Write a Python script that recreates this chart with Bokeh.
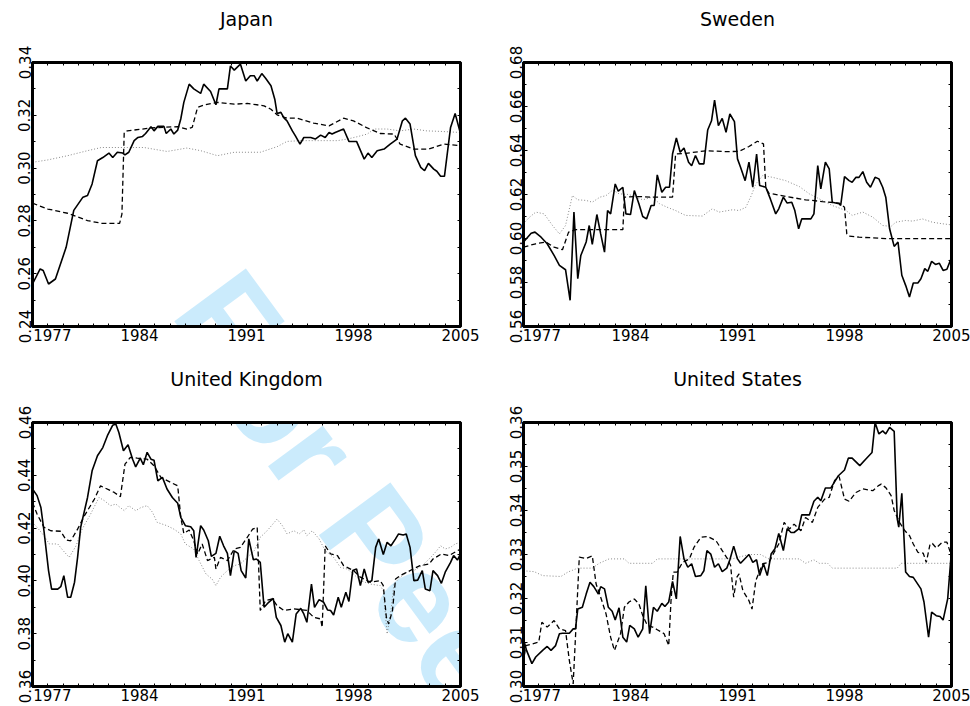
from bokeh.plotting import figure
from bokeh.models import FixedTicker, LinearAxis, Label, NumeralTickFormatter, Range1d
from bokeh.layouts import column, row
from bokeh.embed import file_html
from bokeh.resources import INLINE

# ---------------- data ----------------
titles = ["Japan", "Sweden", "United Kingdom", "United States"]

jp_solid_t = [1977.0, 1977.5, 1977.7, 1978.05, 1978.5, 1979.2, 1979.7, 1980.3, 1980.6, 1980.9, 1981.25, 1981.6, 1982.0, 1982.25, 1982.55, 1982.9, 1983.05, 1983.3, 1983.65, 1983.9, 1984.2, 1984.4, 1984.75, 1984.95, 1985.2, 1985.6, 1985.75, 1986.05, 1986.25, 1986.5, 1986.7, 1986.9, 1987.25, 1987.55, 1988.0, 1988.2, 1988.65, 1989.0, 1989.2, 1989.75, 1989.95, 1990.2, 1990.6, 1990.95, 1991.25, 1991.5, 1991.7, 1992.0, 1992.25, 1992.6, 1992.85, 1993.0, 1993.25, 1993.45, 1993.65, 1994.0, 1994.2, 1994.5, 1994.75, 1995.2, 1995.5, 1995.85, 1996.15, 1996.4, 1996.6, 1996.8, 1997.35, 1997.7, 1998.2, 1998.7, 1998.95, 1999.2, 1999.55, 2000.0, 2000.4, 2000.85, 2001.2, 2001.4, 2001.7, 2002.05, 2002.4, 2002.65, 2002.9, 2003.25, 2003.45, 2003.7, 2003.95, 2004.35, 2004.65, 2004.95]
jp_solid_v = [0.2561, 0.2618, 0.2612, 0.2561, 0.258, 0.270, 0.284, 0.289, 0.2896, 0.294, 0.3028, 0.304, 0.3057, 0.304, 0.306, 0.3057, 0.305, 0.306, 0.3104, 0.3116, 0.312, 0.3131, 0.3157, 0.3141, 0.3158, 0.3158, 0.3131, 0.3148, 0.3129, 0.3144, 0.3186, 0.3249, 0.3318, 0.330, 0.3283, 0.3318, 0.329, 0.324, 0.330, 0.330, 0.3387, 0.3371, 0.3394, 0.333, 0.335, 0.335, 0.333, 0.3358, 0.334, 0.3312, 0.3261, 0.3207, 0.3211, 0.319, 0.3179, 0.3141, 0.3122, 0.3091, 0.3116, 0.3116, 0.311, 0.3125, 0.3116, 0.3135, 0.3129, 0.3135, 0.3148, 0.3101, 0.3101, 0.3034, 0.3057, 0.304, 0.3066, 0.3072, 0.3091, 0.311, 0.3179, 0.3189, 0.3167, 0.3047, 0.3003, 0.299, 0.3018, 0.2996, 0.2988, 0.2969, 0.2969, 0.3154, 0.3207, 0.3141]
jp_dash_t = [1977.0, 1978.0, 1979.3, 1980.6, 1981.5, 1982.7, 1982.85, 1983.0, 1983.2, 1984.75, 1986.5, 1987.1, 1987.45, 1987.8, 1988.2, 1989.1, 1990.2, 1991.05, 1992.15, 1992.6, 1993.0, 1993.65, 1994.3, 1995.4, 1996.4, 1997.35, 1998.0, 1998.9, 1999.75, 2000.65, 2001.05, 2001.95, 2002.9, 2003.9, 2005.0]
jp_dash_v = [0.2867, 0.2845, 0.2829, 0.2801, 0.2791, 0.2791, 0.2826, 0.3135, 0.3141, 0.3152, 0.3157, 0.3148, 0.3154, 0.323, 0.3239, 0.3249, 0.3242, 0.3245, 0.3236, 0.3223, 0.3202, 0.3189, 0.3189, 0.317, 0.316, 0.3189, 0.3179, 0.3152, 0.3131, 0.3129, 0.3091, 0.3072, 0.3072, 0.3091, 0.3085]
jp_dot_t = [1977.0, 1978.0, 1979.3, 1980.6, 1981.5, 1983.2, 1984.3, 1985.8, 1987.1, 1988.0, 1989.1, 1990.2, 1991.9, 1993.0, 1993.65, 1994.55, 1995.85, 1996.95, 1997.6, 1998.25, 1998.9, 1999.35, 2000.2, 2001.05, 2001.95, 2002.8, 2003.7, 2005.0]
jp_dot_v = [0.3022, 0.3031, 0.3047, 0.3066, 0.3078, 0.3078, 0.3078, 0.3063, 0.3076, 0.3066, 0.3047, 0.306, 0.306, 0.3081, 0.3101, 0.3104, 0.3104, 0.3104, 0.311, 0.3119, 0.3129, 0.3148, 0.3148, 0.3141, 0.3148, 0.3141, 0.3139, 0.3135]

se_solid_t = [1977.0, 1977.5, 1977.75, 1978.15, 1978.55, 1979.0, 1979.35, 1979.75, 1980.05, 1980.3, 1980.55, 1980.75, 1981.1, 1981.3, 1981.5, 1981.8, 1982.05, 1982.3, 1982.5, 1982.7, 1983.0, 1983.2, 1983.5, 1983.7, 1984.0, 1984.25, 1984.55, 1984.8, 1985.05, 1985.35, 1985.55, 1985.75, 1986.05, 1986.3, 1986.55, 1986.75, 1987.0, 1987.25, 1987.5, 1987.8, 1988.0, 1988.25, 1988.5, 1988.8, 1989.05, 1989.3, 1989.5, 1989.75, 1990.0, 1990.25, 1990.5, 1990.8, 1991.0, 1991.2, 1991.5, 1991.75, 1992.0, 1992.25, 1992.45, 1992.85, 1993.15, 1993.5, 1993.7, 1994.0, 1994.25, 1994.55, 1994.75, 1995.0, 1995.2, 1995.8, 1996.0, 1996.25, 1996.45, 1996.75, 1997.0, 1997.2, 1997.65, 1997.75, 1998.0, 1998.3, 1998.5, 1998.75, 1998.95, 1999.2, 1999.45, 1999.7, 2000.0, 2000.25, 2000.5, 2000.7, 2000.95, 2001.25, 2001.5, 2001.75, 2002.0, 2002.25, 2002.5, 2002.8, 2003.0, 2003.25, 2003.45, 2003.7, 2003.95, 2004.2, 2004.45, 2004.7, 2005.0]
se_solid_v = [0.5984, 0.6024, 0.6029, 0.6006, 0.5976, 0.5923, 0.5878, 0.5858, 0.5719, 0.612, 0.5817, 0.5923, 0.5984, 0.6059, 0.5973, 0.6109, 0.6021, 0.5938, 0.6127, 0.6112, 0.6248, 0.6215, 0.6233, 0.6112, 0.6109, 0.6218, 0.6158, 0.610, 0.6089, 0.615, 0.615, 0.6289, 0.621, 0.6233, 0.6233, 0.6384, 0.6457, 0.6392, 0.6411, 0.6347, 0.6331, 0.6377, 0.6339, 0.6339, 0.6493, 0.6535, 0.6629, 0.6513, 0.6546, 0.6483, 0.6566, 0.6531, 0.6362, 0.6324, 0.6263, 0.6347, 0.6233, 0.6384, 0.6241, 0.6233, 0.618, 0.6112, 0.6135, 0.6188, 0.6161, 0.6165, 0.6127, 0.6044, 0.6089, 0.6089, 0.6112, 0.6331, 0.6226, 0.6347, 0.6316, 0.6165, 0.6158, 0.615, 0.6281, 0.6263, 0.6256, 0.6278, 0.6278, 0.6304, 0.6256, 0.6233, 0.6278, 0.6271, 0.6233, 0.6188, 0.6044, 0.5964, 0.5984, 0.5833, 0.5787, 0.5734, 0.5798, 0.5798, 0.5817, 0.5863, 0.5851, 0.5896, 0.5882, 0.5888, 0.5855, 0.586, 0.5913]
se_dash_t = [1977.0, 1977.8, 1978.45, 1979.0, 1979.55, 1979.95, 1980.4, 1981.75, 1983.5, 1983.6, 1984.35, 1985.45, 1986.75, 1986.95, 1987.6, 1988.95, 1990.25, 1991.1, 1991.75, 1992.3, 1992.7, 1992.85, 1993.05, 1994.15, 1995.45, 1996.55, 1997.65, 1998.0, 1998.15, 1998.3, 1998.95, 1999.85, 2000.7, 2001.55, 2005.0]
se_dash_v = [0.5961, 0.5976, 0.5984, 0.5961, 0.5949, 0.6029, 0.604, 0.604, 0.604, 0.6188, 0.6191, 0.6188, 0.6188, 0.6384, 0.6387, 0.6399, 0.6395, 0.6396, 0.6418, 0.6442, 0.643, 0.6233, 0.6206, 0.6191, 0.6176, 0.6168, 0.6161, 0.6142, 0.6021, 0.6011, 0.6006, 0.6003, 0.5999, 0.5999, 0.5999]
se_dot_t = [1977.0, 1977.4, 1977.8, 1978.35, 1978.9, 1979.35, 1979.75, 1980.2, 1980.55, 1981.1, 1981.5, 1982.0, 1982.4, 1982.85, 1983.25, 1983.9, 1984.8, 1985.45, 1985.9, 1986.4, 1986.95, 1987.6, 1988.7, 1989.35, 1989.8, 1990.7, 1991.1, 1991.55, 1991.9, 1992.2, 1992.65, 1993.3, 1994.15, 1995.05, 1995.7, 1996.55, 1997.2, 1998.1, 1998.5, 1999.2, 1999.85, 2000.5, 2001.05, 2001.35, 2002.0, 2002.45, 2003.1, 2003.75, 2004.4, 2005.0]
se_dot_v = [0.6067, 0.6097, 0.612, 0.6112, 0.6059, 0.6021, 0.6059, 0.6195, 0.6176, 0.6173, 0.6165, 0.6188, 0.6195, 0.6221, 0.6203, 0.620, 0.6176, 0.6188, 0.6158, 0.6142, 0.6127, 0.6105, 0.6102, 0.6135, 0.612, 0.6131, 0.6127, 0.6142, 0.6195, 0.6248, 0.6286, 0.6278, 0.6263, 0.6236, 0.6203, 0.6173, 0.615, 0.6127, 0.6105, 0.612, 0.6097, 0.6059, 0.6055, 0.6074, 0.6082, 0.6079, 0.6089, 0.6074, 0.6067, 0.6062]

uk_solid_t = [1977.0, 1977.3, 1977.55, 1977.75, 1978.05, 1978.25, 1978.65, 1978.85, 1979.05, 1979.3, 1979.5, 1979.75, 1979.95, 1980.15, 1980.6, 1980.9, 1981.25, 1981.6, 1981.9, 1982.25, 1982.45, 1982.65, 1982.95, 1983.25, 1983.55, 1983.75, 1984.05, 1984.25, 1984.5, 1984.75, 1984.95, 1985.2, 1985.5, 1985.8, 1986.15, 1986.5, 1986.7, 1987.0, 1987.35, 1987.55, 1987.7, 1988.0, 1988.2, 1988.5, 1988.7, 1989.0, 1989.25, 1989.5, 1989.75, 1989.95, 1990.2, 1990.45, 1990.65, 1990.95, 1991.15, 1991.45, 1991.65, 1991.9, 1992.15, 1992.45, 1992.75, 1992.95, 1993.25, 1993.5, 1993.7, 1994.0, 1994.25, 1994.55, 1994.75, 1994.95, 1995.25, 1995.45, 1995.75, 1996.05, 1996.3, 1996.5, 1996.7, 1997.0, 1997.2, 1997.5, 1997.7, 1997.95, 1998.2, 1998.45, 1998.7, 1998.95, 1999.2, 1999.45, 1999.65, 1999.95, 2000.2, 2000.45, 2000.75, 2000.95, 2001.25, 2001.45, 2001.7, 2001.95, 2002.2, 2002.5, 2002.7, 2003.0, 2003.2, 2003.5, 2003.75, 2004.0, 2004.35, 2004.55, 2004.8, 2005.0]
uk_solid_v = [0.4348, 0.4323, 0.4278, 0.419, 0.4039, 0.3969, 0.3969, 0.3978, 0.402, 0.3938, 0.3938, 0.3995, 0.4089, 0.4203, 0.4316, 0.4417, 0.4474, 0.4505, 0.455, 0.459, 0.4594, 0.4562, 0.4493, 0.4516, 0.4461, 0.4432, 0.4465, 0.444, 0.4487, 0.4461, 0.4457, 0.4379, 0.4392, 0.4348, 0.4316, 0.4294, 0.4241, 0.4209, 0.4205, 0.419, 0.4089, 0.4209, 0.4193, 0.4152, 0.4093, 0.4104, 0.4169, 0.4133, 0.4104, 0.402, 0.4114, 0.4104, 0.4039, 0.4011, 0.4159, 0.408, 0.4083, 0.407, 0.390, 0.3919, 0.3934, 0.3862, 0.3831, 0.3768, 0.380, 0.3768, 0.3875, 0.3896, 0.3875, 0.3843, 0.3988, 0.390, 0.3929, 0.3919, 0.389, 0.3888, 0.3871, 0.3938, 0.390, 0.3957, 0.3922, 0.4039, 0.4045, 0.3982, 0.4045, 0.3995, 0.4001, 0.4127, 0.4159, 0.410, 0.4146, 0.4133, 0.4159, 0.4178, 0.4174, 0.4178, 0.4127, 0.4001, 0.4003, 0.4039, 0.3969, 0.3963, 0.4039, 0.402, 0.3991, 0.4033, 0.407, 0.4096, 0.4079, 0.4102]
uk_dash_t = [1977.0, 1977.3, 1977.75, 1978.2, 1978.85, 1979.2, 1979.5, 1979.95, 1980.4, 1981.05, 1981.45, 1982.35, 1982.75, 1983.05, 1983.4, 1983.85, 1984.5, 1984.95, 1985.4, 1986.05, 1986.5, 1986.7, 1986.9, 1987.25, 1987.55, 1987.8, 1988.1, 1988.45, 1988.9, 1989.0, 1989.3, 1989.75, 1990.2, 1990.6, 1991.05, 1991.4, 1991.7, 1991.9, 1992.25, 1992.7, 1993.0, 1993.45, 1994.1, 1994.95, 1995.4, 1995.85, 1995.95, 1996.15, 1996.5, 1996.95, 1997.35, 1998.0, 1998.45, 1999.1, 1999.75, 1999.95, 2000.15, 2000.3, 2000.55, 2000.75, 2001.05, 2001.7, 2002.35, 2002.95, 2003.2, 2003.75, 2004.25, 2005.0]
uk_dash_v = [0.4297, 0.4253, 0.4203, 0.419, 0.4188, 0.4155, 0.4152, 0.4196, 0.4247, 0.431, 0.436, 0.4335, 0.4319, 0.4442, 0.4468, 0.4465, 0.4461, 0.4436, 0.4392, 0.4373, 0.436, 0.4241, 0.418, 0.4193, 0.4152, 0.4102, 0.414, 0.4077, 0.4089, 0.4045, 0.4089, 0.4077, 0.4121, 0.4127, 0.4165, 0.4196, 0.4203, 0.3888, 0.3925, 0.3932, 0.3906, 0.3888, 0.3894, 0.3888, 0.3862, 0.3856, 0.3824, 0.4133, 0.4102, 0.4096, 0.4058, 0.4039, 0.4014, 0.3995, 0.4001, 0.3982, 0.3862, 0.3837, 0.3888, 0.4007, 0.402, 0.4039, 0.4058, 0.4064, 0.4083, 0.4102, 0.4096, 0.4121]
uk_dot_t = [1977.0, 1977.3, 1977.75, 1978.1, 1978.65, 1979.0, 1979.4, 1979.85, 1980.25, 1980.8, 1981.35, 1981.7, 1982.1, 1982.45, 1983.0, 1983.3, 1983.75, 1984.1, 1984.5, 1984.85, 1985.15, 1985.8, 1986.25, 1986.7, 1987.0, 1987.55, 1987.9, 1988.35, 1988.75, 1989.0, 1989.3, 1989.75, 1990.2, 1990.6, 1991.05, 1991.5, 1991.9, 1992.35, 1993.0, 1993.35, 1993.65, 1994.1, 1994.45, 1994.75, 1994.95, 1995.3, 1995.75, 1996.15, 1996.7, 1997.15, 1997.6, 1998.0, 1998.45, 1999.1, 1999.75, 1999.95, 2000.2, 2000.45, 2000.65, 2001.05, 2001.5, 2001.95, 2002.5, 2003.05, 2003.35, 2003.7, 2004.0, 2004.35, 2004.65, 2005.0]
uk_dot_v = [0.4222, 0.4203, 0.4171, 0.414, 0.414, 0.4115, 0.4089, 0.4133, 0.4196, 0.4253, 0.4316, 0.4304, 0.4285, 0.4291, 0.4266, 0.4285, 0.4266, 0.4278, 0.4285, 0.426, 0.4222, 0.4209, 0.4196, 0.4178, 0.414, 0.4121, 0.4077, 0.4026, 0.4007, 0.3982, 0.4014, 0.4039, 0.4058, 0.4064, 0.4089, 0.4114, 0.4165, 0.419, 0.4234, 0.4209, 0.4178, 0.419, 0.4178, 0.4193, 0.4171, 0.419, 0.4159, 0.4114, 0.4089, 0.4051, 0.4045, 0.4026, 0.4001, 0.3988, 0.3982, 0.3963, 0.3799, 0.3888, 0.3988, 0.4014, 0.4033, 0.4039, 0.4058, 0.4089, 0.4108, 0.4133, 0.4121, 0.4127, 0.414, 0.4146]

us_solid_t = [1977.0, 1977.2, 1977.55, 1977.8, 1978.25, 1978.55, 1978.8, 1979.1, 1979.35, 1979.55, 1980.0, 1980.25, 1980.4, 1980.55, 1980.85, 1981.1, 1981.35, 1981.6, 1981.9, 1982.05, 1982.3, 1982.55, 1982.8, 1983.0, 1983.25, 1983.5, 1983.75, 1983.95, 1984.25, 1984.5, 1984.8, 1985.0, 1985.25, 1985.5, 1985.75, 1986.05, 1986.25, 1986.5, 1986.75, 1987.0, 1987.25, 1987.5, 1987.75, 1988.0, 1988.25, 1988.6, 1988.8, 1989.0, 1989.25, 1989.5, 1989.75, 1990.0, 1990.3, 1990.5, 1990.75, 1991.0, 1991.2, 1991.75, 1992.0, 1992.25, 1992.45, 1992.7, 1992.95, 1993.2, 1993.45, 1993.7, 1994.0, 1994.25, 1994.5, 1994.7, 1995.0, 1995.2, 1995.7, 1996.0, 1996.25, 1996.45, 1996.75, 1997.1, 1997.4, 1997.6, 1998.0, 1998.25, 1998.5, 1999.0, 1999.4, 1999.8, 2000.0, 2000.25, 2000.5, 2000.7, 2000.95, 2001.25, 2001.45, 2001.55, 2001.75, 2002.0, 2002.25, 2002.5, 2003.0, 2003.2, 2003.5, 2003.7, 2004.0, 2004.25, 2004.45, 2004.75, 2005.0]
us_solid_v = [0.3108, 0.3082, 0.3052, 0.3067, 0.3082, 0.3091, 0.3082, 0.3093, 0.312, 0.3121, 0.3121, 0.3131, 0.3131, 0.3176, 0.318, 0.321, 0.3237, 0.3227, 0.321, 0.3227, 0.3222, 0.318, 0.3171, 0.3151, 0.3179, 0.3112, 0.3101, 0.3139, 0.3131, 0.3112, 0.3131, 0.3229, 0.312, 0.318, 0.3171, 0.3189, 0.3182, 0.3192, 0.3239, 0.3199, 0.3341, 0.329, 0.3271, 0.3279, 0.325, 0.3252, 0.3263, 0.3309, 0.3301, 0.3271, 0.3279, 0.3261, 0.3269, 0.3288, 0.3319, 0.329, 0.328, 0.330, 0.3282, 0.3288, 0.3252, 0.3279, 0.3252, 0.3301, 0.3313, 0.3348, 0.3309, 0.3359, 0.335, 0.335, 0.3358, 0.339, 0.339, 0.3421, 0.343, 0.3422, 0.3451, 0.3451, 0.3468, 0.3479, 0.3492, 0.3519, 0.3519, 0.3502, 0.3517, 0.3532, 0.360, 0.3574, 0.3581, 0.3574, 0.3589, 0.358, 0.3381, 0.3362, 0.3439, 0.326, 0.325, 0.3248, 0.3222, 0.3192, 0.3112, 0.3169, 0.3161, 0.3159, 0.3151, 0.3199, 0.3309]
us_dash_t = [1977.0, 1977.15, 1977.6, 1978.0, 1978.2, 1978.55, 1979.0, 1979.35, 1979.75, 1980.0, 1980.25, 1980.4, 1980.65, 1981.1, 1981.5, 1981.75, 1982.05, 1982.4, 1982.7, 1982.95, 1983.15, 1983.35, 1983.6, 1983.9, 1984.25, 1984.55, 1984.8, 1985.1, 1985.45, 1985.75, 1986.2, 1986.5, 1986.65, 1986.8, 1987.05, 1987.4, 1987.85, 1988.15, 1988.6, 1989.05, 1989.6, 1990.0, 1990.35, 1990.55, 1990.75, 1990.95, 1991.1, 1991.35, 1991.75, 1991.95, 1992.2, 1992.65, 1993.05, 1993.4, 1993.7, 1994.05, 1994.4, 1994.7, 1995.15, 1995.45, 1995.9, 1996.25, 1996.7, 1997.0, 1997.35, 1997.65, 1998.0, 1998.3, 1998.75, 1999.2, 1999.85, 2000.2, 2000.4, 2000.7, 2001.05, 2001.25, 2001.6, 2001.95, 2002.25, 2002.5, 2002.8, 2003.15, 2003.35, 2003.6, 2003.75, 2004.0, 2004.4, 2004.7, 2005.0]
us_dash_v = [0.3055, 0.3093, 0.3097, 0.3101, 0.3146, 0.3135, 0.315, 0.3131, 0.3127, 0.3059, 0.3006, 0.3112, 0.3294, 0.3291, 0.3297, 0.3233, 0.3203, 0.3165, 0.3112, 0.3082, 0.3101, 0.312, 0.318, 0.3192, 0.3199, 0.3188, 0.3161, 0.3139, 0.3135, 0.3129, 0.312, 0.3093, 0.3195, 0.326, 0.326, 0.3282, 0.329, 0.3316, 0.3339, 0.3341, 0.3331, 0.3309, 0.329, 0.3275, 0.3203, 0.3248, 0.3256, 0.3218, 0.3195, 0.3176, 0.3241, 0.3279, 0.3282, 0.3305, 0.3324, 0.3373, 0.3358, 0.3369, 0.3354, 0.3384, 0.3373, 0.3407, 0.3426, 0.343, 0.3468, 0.3477, 0.3426, 0.3421, 0.3441, 0.3449, 0.3445, 0.3456, 0.346, 0.3452, 0.3434, 0.340, 0.3373, 0.3354, 0.3343, 0.3324, 0.3305, 0.3303, 0.3282, 0.3324, 0.3325, 0.3315, 0.3328, 0.3328, 0.3297]
us_dot_t = [1977.0, 1977.7, 1978.25, 1979.45, 1979.9, 1980.55, 1981.5, 1981.95, 1982.6, 1983.6, 1983.9, 1985.45, 1985.75, 1988.7, 1990.65, 1991.75, 1992.5, 1993.05, 1995.05, 1995.45, 1996.0, 1996.35, 1996.9, 1997.2, 1998.5, 2001.45, 2001.7, 2002.9, 2005.0]
us_dot_v = [0.3263, 0.3261, 0.3252, 0.325, 0.326, 0.3269, 0.3269, 0.328, 0.329, 0.329, 0.328, 0.328, 0.329, 0.329, 0.329, 0.330, 0.330, 0.329, 0.329, 0.328, 0.3288, 0.328, 0.328, 0.3269, 0.3269, 0.3269, 0.328, 0.328, 0.328]

# axis ranges and ticks
x_range_years = (1977, 2005)
x_label_text = ["1977", "1984", "1991", "1998", "2005"]
x_minor_years = list(range(1977, 2006))

jp_ylim = (0.24, 0.34)
se_ylim = (0.56, 0.68)
uk_ylim = (0.36, 0.46)
us_ylim = (0.30, 0.36)
jp_yticks = [0.24, 0.26, 0.28, 0.30, 0.32, 0.34]
se_yticks = [0.56, 0.58, 0.60, 0.62, 0.64, 0.66, 0.68]
uk_yticks = [0.36, 0.38, 0.40, 0.42, 0.44, 0.46]
us_yticks = [0.30, 0.31, 0.32, 0.33, 0.34, 0.35, 0.36]
jp_yminor = [round(0.24 + 0.01 * i, 4) for i in range(11)]
se_yminor = [round(0.56 + 0.01 * i, 4) for i in range(13)]
uk_yminor = [round(0.36 + 0.01 * i, 4) for i in range(11)]
us_yminor = [round(0.30 + 0.005 * i, 4) for i in range(13)]

watermark_text = "For Peer Review"

# ---------------- layout geometry (page pixels) ----------------
FONT = "DejaVu Sans"
WM_START = (173, 325)      # page position of watermark baseline start
WM_ANGLE = -0.936          # radians
WM_SIZE = "129px"
WM_COLOR = "#cbebfc"


def build(title, ylim, yticks, yminor, series, canvas, frame, xlabel_pos):
    cx, cy, cw, ch = canvas
    fx0, fy0, fx1, fy1 = frame
    p = figure(width=cw, height=ch,
               x_range=Range1d(*x_range_years), y_range=Range1d(*ylim),
               x_axis_type=None, y_axis_type=None,
               output_backend="svg", toolbar_location=None)
    p.min_border_left = fx0 - cx
    p.min_border_right = cx + cw - fx1
    p.min_border_top = fy0 - cy
    p.min_border_bottom = cy + ch - fy1
    p.outline_line_color = "black"
    p.outline_line_width = 3
    p.background_fill_color = "white"
    p.border_fill_color = "white"

    def base(ax):
        ax.level = "overlay"
        ax.axis_line_color = "black"
        ax.axis_line_width = 3
        ax.major_tick_out = 0
        ax.minor_tick_out = 0
        ax.major_tick_line_color = "black"
        ax.minor_tick_line_color = "black"
        ax.major_tick_line_width = 1
        ax.minor_tick_line_width = 1
        ax.major_label_text_font = FONT
        ax.major_label_text_font_size = "15px"
        ax.major_label_text_color = "black"

    # bottom axis
    xb = LinearAxis(ticker=FixedTicker(ticks=xlabel_pos, minor_ticks=x_minor_years))
    base(xb)
    xb.major_tick_in = 0
    xb.minor_tick_in = 3
    xb.major_label_standoff = 2
    xb.major_label_overrides = {pos: txt for pos, txt in zip(xlabel_pos, x_label_text)}
    p.add_layout(xb, "below")

    # top axis (ticks only) carrying the panel title as its axis label
    xt = LinearAxis(ticker=FixedTicker(ticks=[], minor_ticks=x_minor_years))
    base(xt)
    xt.minor_tick_in = 3
    xt.major_label_standoff = 0
    xt.axis_label = title
    xt.axis_label_text_font = FONT
    xt.axis_label_text_font_size = "19px"
    xt.axis_label_text_font_style = "normal"
    xt.axis_label_text_color = "black"
    xt.axis_label_standoff = 33
    p.add_layout(xt, "above")

    # left axis
    yl = LinearAxis(ticker=FixedTicker(ticks=yticks, minor_ticks=yminor),
                    formatter=NumeralTickFormatter(format="0.00"))
    base(yl)
    yl.major_tick_in = 4
    yl.minor_tick_in = 3
    yl.major_label_orientation = "vertical"
    yl.major_label_standoff = 2
    p.add_layout(yl, "left")

    # right axis (ticks only)
    yr = LinearAxis(ticker=FixedTicker(ticks=[], minor_ticks=yminor))
    base(yr)
    yr.minor_tick_in = 3
    yr.major_label_standoff = 0
    p.add_layout(yr, "right")

    # watermark in canvas pixel units (origin bottom-left of this canvas)
    wm = Label(x=WM_START[0] - cx, y=ch - (WM_START[1] - cy),
               x_units="screen", y_units="screen",
               text=watermark_text, angle=WM_ANGLE,
               text_font="Liberation Sans", text_font_style="bold",
               text_font_size=WM_SIZE, text_color=WM_COLOR,
               text_align="left", text_baseline="alphabetic", level="annotation")
    p.renderers.append(wm)

    (st, sv), (dt, dv), (ot, ov) = series
    r1 = p.line(ot, ov, line_color="#8a8a8a", line_width=1, line_dash="1 2")
    r2 = p.line(dt, dv, line_color="black", line_width=1.3, line_dash="5 3")
    r3 = p.line(st, sv, line_color="black", line_width=1.6)
    for r in (r1, r2, r3):
        r.level = "annotation"
    return p


left_lbl = [1978.3, 1984, 1991, 1998, 2005]
right_lbl = [1978.2, 1984, 1991, 1998, 2005]

p1 = build(titles[0], jp_ylim, jp_yticks, jp_yminor,
           [(jp_solid_t, jp_solid_v), (jp_dash_t, jp_dash_v), (jp_dot_t, jp_dot_v)],
           (0, 0, 485, 364), (32, 62, 460, 326), left_lbl)
p2 = build(titles[1], se_ylim, se_yticks, se_yminor,
           [(se_solid_t, se_solid_v), (se_dash_t, se_dash_v), (se_dot_t, se_dot_v)],
           (485, 0, 485, 364), (523, 62, 951, 326), right_lbl)
p3 = build(titles[2], uk_ylim, uk_yticks, uk_yminor,
           [(uk_solid_t, uk_solid_v), (uk_dash_t, uk_dash_v), (uk_dot_t, uk_dot_v)],
           (0, 364, 485, 342), (32, 422, 460, 686), left_lbl)
p4 = build(titles[3], us_ylim, us_yticks, us_yminor,
           [(us_solid_t, us_solid_v), (us_dash_t, us_dash_v), (us_dot_t, us_dot_v)],
           (485, 364, 485, 342), (523, 422, 951, 686), right_lbl)

layout = column(row(p1, p2), row(p3, p4))
open("out.html", "w").write(file_html(layout, INLINE))
